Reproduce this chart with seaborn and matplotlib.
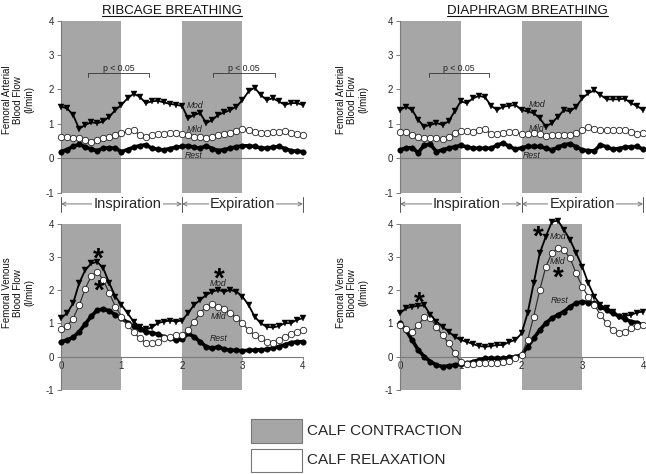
import numpy as np
import pandas as pd
import seaborn as sns
import matplotlib
matplotlib.use("Agg")
import matplotlib.pyplot as plt
from matplotlib.lines import Line2D
from matplotlib.patches import Rectangle

# ---------------- data ----------------
time = [0.0, 0.1, 0.2, 0.3, 0.4, 0.5, 0.6, 0.7, 0.8, 0.9,
        1.0, 1.1, 1.2, 1.3, 1.4, 1.5, 1.6, 1.7, 1.8, 1.9,
        2.0, 2.1, 2.2, 2.3, 2.4, 2.5, 2.6, 2.7, 2.8, 2.9,
        3.0, 3.1, 3.2, 3.3, 3.4, 3.5, 3.6, 3.7, 3.8, 3.9, 4.0]

# Ribcage breathing - femoral arterial
rib_art_mod = [1.50, 1.45, 1.26, 0.85, 0.97, 1.04, 1.02, 1.07, 1.21, 1.40,
               1.55, 1.74, 1.87, 1.79, 1.60, 1.65, 1.67, 1.62, 1.58, 1.55,
               1.52, 1.16, 1.26, 1.31, 1.02, 1.11, 1.26, 1.33, 1.40, 1.50,
               1.69, 1.94, 2.05, 1.84, 1.69, 1.74, 1.65, 1.55, 1.60, 1.60, 1.55]
rib_art_mild = [0.63, 0.62, 0.60, 0.58, 0.52, 0.48, 0.53, 0.58, 0.63, 0.68,
                0.73, 0.78, 0.82, 0.68, 0.63, 0.68, 0.70, 0.70, 0.72, 0.73,
                0.71, 0.67, 0.63, 0.61, 0.60, 0.63, 0.68, 0.70, 0.73, 0.78,
                0.85, 0.82, 0.75, 0.74, 0.73, 0.75, 0.77, 0.79, 0.73, 0.70, 0.66]
rib_art_rest = [0.19, 0.25, 0.34, 0.40, 0.33, 0.26, 0.22, 0.29, 0.30, 0.29,
                0.19, 0.25, 0.32, 0.36, 0.39, 0.29, 0.26, 0.24, 0.28, 0.32,
                0.34, 0.36, 0.32, 0.29, 0.36, 0.28, 0.22, 0.25, 0.29, 0.33,
                0.36, 0.36, 0.34, 0.30, 0.29, 0.32, 0.34, 0.28, 0.22, 0.20, 0.19]

# Diaphragm breathing - femoral arterial
dia_art_mod = [1.40, 1.50, 1.40, 1.11, 0.92, 0.97, 1.02, 0.97, 1.07, 1.36,
               1.65, 1.60, 1.74, 1.81, 1.77, 1.52, 1.40, 1.50, 1.52, 1.55,
               1.40, 1.36, 1.31, 1.16, 0.92, 1.02, 1.21, 1.40, 1.36, 1.50,
               1.74, 1.89, 1.97, 1.84, 1.71, 1.71, 1.71, 1.73, 1.60, 1.52, 1.40]
dia_art_mild = [0.75, 0.77, 0.68, 0.63, 0.60, 0.59, 0.58, 0.55, 0.63, 0.72,
                0.79, 0.78, 0.77, 0.83, 0.85, 0.70, 0.71, 0.73, 0.77, 0.76,
                0.70, 0.71, 0.73, 0.69, 0.65, 0.66, 0.66, 0.67, 0.68, 0.74,
                0.82, 0.90, 0.86, 0.82, 0.81, 0.82, 0.83, 0.82, 0.76, 0.70, 0.73]
dia_art_rest = [0.24, 0.30, 0.30, 0.16, 0.38, 0.40, 0.19, 0.24, 0.29, 0.33,
                0.37, 0.33, 0.29, 0.29, 0.29, 0.29, 0.38, 0.44, 0.34, 0.26,
                0.30, 0.34, 0.34, 0.34, 0.29, 0.24, 0.32, 0.39, 0.42, 0.33,
                0.24, 0.22, 0.21, 0.39, 0.33, 0.26, 0.28, 0.32, 0.33, 0.34, 0.26]

# Ribcage breathing - femoral venous
rib_ven_mod = [1.16, 1.31, 1.61, 2.21, 2.61, 2.81, 2.86, 2.66, 2.21, 1.81,
               1.56, 1.31, 1.06, 0.90, 0.82, 0.88, 1.01, 1.06, 1.09, 1.06,
               1.09, 1.31, 1.56, 1.71, 1.86, 1.96, 2.01, 1.96, 2.01, 1.96,
               1.81, 1.56, 1.21, 1.01, 0.90, 0.88, 0.92, 1.01, 1.01, 1.11, 1.16]
rib_ven_mild = [0.82, 0.92, 1.15, 1.55, 2.05, 2.43, 2.56, 2.31, 1.91, 1.51,
                1.21, 0.95, 0.75, 0.55, 0.42, 0.40, 0.45, 0.55, 0.60, 0.65,
                0.65, 0.80, 1.06, 1.31, 1.51, 1.59, 1.51, 1.43, 1.31, 1.16,
                1.01, 0.80, 0.65, 0.55, 0.45, 0.42, 0.50, 0.60, 0.68, 0.75, 0.80]
rib_ven_rest = [0.45, 0.50, 0.58, 0.75, 0.98, 1.22, 1.40, 1.44, 1.38, 1.26,
                1.16, 1.03, 0.92, 0.82, 0.75, 0.72, 0.68, 0.60, 0.55, 0.50,
                0.52, 0.70, 0.60, 0.45, 0.30, 0.25, 0.30, 0.22, 0.20, 0.19,
                0.18, 0.19, 0.20, 0.21, 0.22, 0.26, 0.30, 0.36, 0.42, 0.45, 0.45]

# Diaphragm breathing - femoral venous
dia_ven_mod = [1.31, 1.46, 1.51, 1.53, 1.55, 1.26, 1.06, 0.90, 0.75, 0.60,
               0.50, 0.45, 0.38, 0.32, 0.30, 0.32, 0.35, 0.35, 0.45, 0.50,
               0.70, 1.31, 2.21, 3.12, 3.62, 4.07, 4.10, 3.82, 3.52, 3.12,
               2.71, 2.21, 1.81, 1.56, 1.46, 1.36, 1.21, 1.23, 1.26, 1.33, 1.36]
dia_ven_mild = [0.95, 0.82, 0.75, 0.95, 1.20, 1.18, 0.90, 0.65, 0.40, 0.10,
                -0.15, -0.22, -0.22, -0.20, -0.18, -0.18, -0.18, -0.15, -0.12, -0.05,
                0.05, 0.50, 1.21, 2.01, 2.71, 3.12, 3.27, 3.22, 2.96, 2.51,
                2.11, 1.81, 1.56, 1.26, 1.01, 0.80, 0.72, 0.75, 0.85, 0.92, 0.95]
dia_ven_rest = [1.01, 0.80, 0.50, 0.20, 0.00, -0.15, -0.25, -0.30, -0.28, -0.25,
                -0.22, -0.20, -0.15, -0.10, -0.05, -0.05, -0.05, -0.05, -0.02, 0.00,
                0.05, 0.30, 0.55, 0.80, 1.01, 1.16, 1.26, 1.36, 1.51, 1.61,
                1.66, 1.63, 1.61, 1.51, 1.41, 1.31, 1.23, 1.13, 1.06, 1.03, 0.95]

titles = ["RIBCAGE BREATHING", "DIAPHRAGM BREATHING"]
ylabels = ["Femoral Arterial\nBlood Flow\n(l/min)", "Femoral Venous\nBlood Flow\n(l/min)"]
phase_labels = ["Inspiration", "Expiration"]
legend_labels = ["CALF CONTRACTION", "CALF RELAXATION"]
y_ticks = [-1, 0, 1, 2, 3, 4]
x_ticks = [0, 1, 2, 3, 4]
contraction_spans = [(0, 1), (2, 3)]

# ---------------- style ----------------
sns.set_style("white")
plt.rcParams["font.family"] = ["Liberation Sans", "DejaVu Sans"]

GRAY = "#a6a6a6"
AXC = "#7a7a7a"

fig = plt.figure(figsize=(6.46, 4.74), dpi=100)
positions = {
    (0, 0): [0.0944, 0.5937, 0.3746, 0.3629],
    (0, 1): [0.6192, 0.5937, 0.3762, 0.3629],
    (1, 0): [0.0944, 0.1776, 0.3746, 0.3498],
    (1, 1): [0.6192, 0.1776, 0.3762, 0.3498],
}
series = {
    (0, 0): (rib_art_mod, rib_art_mild, rib_art_rest),
    (0, 1): (dia_art_mod, dia_art_mild, dia_art_rest),
    (1, 0): (rib_ven_mod, rib_ven_mild, rib_ven_rest),
    (1, 1): (dia_ven_mod, dia_ven_mild, dia_ven_rest),
}
labels_pos = {
    (0, 0): [(2.21, 1.52), (2.21, 0.84), (2.19, 0.07)],
    (0, 1): [(2.25, 1.55), (2.25, 0.87), (2.17, 0.07)],
    (1, 0): [(2.6, 2.20), (2.6, 1.20), (2.6, 0.55)],
    (1, 1): [(2.6, 3.62), (2.59, 2.86), (2.63, 1.68)],
}
stars = {
    (1, 0): [(0.62, 3.12), (0.63, 2.16), (2.62, 2.53)],
    (1, 1): [(0.31, 1.79), (2.27, 3.80), (2.60, 2.56)],
}
brackets = {
    (0, 0): [(0.45, 1.46), (2.52, 3.53)],
    (0, 1): [(0.47, 1.47)],
}

axes = {}
for key, pos in positions.items():
    r, c = key
    ax = fig.add_axes(pos)
    axes[key] = ax
    ax.set_xlim(0, 4)
    ax.set_ylim(-1, 4)
    for a, b in contraction_spans:
        ax.axvspan(a, b, color=GRAY, lw=0, zorder=0)
    mod, mild, rest = series[key]
    df = pd.DataFrame({"t": time, "mod": mod, "mild": mild, "rest": rest})
    sns.lineplot(data=df, x="t", y="rest", ax=ax, color="black", lw=2.6,
                 marker="o", markersize=4.0, markeredgecolor="black",
                 markerfacecolor="black", markeredgewidth=0.3, clip_on=False, zorder=3)
    sns.lineplot(data=df, x="t", y="mild", ax=ax, color="#333333", lw=0.9,
                 marker="o", markersize=4.6, markeredgecolor="#222222",
                 markerfacecolor="white", markeredgewidth=0.6, clip_on=False, zorder=4)
    sns.lineplot(data=df, x="t", y="mod", ax=ax, color="black", lw=1.3,
                 marker="v", markersize=4.2, markeredgecolor="black",
                 markerfacecolor="black", markeredgewidth=0.3, clip_on=False, zorder=5)
    for (lx, ly), txt in zip(labels_pos[key], ["Mod", "Mild", "Rest"]):
        ax.text(lx, ly, txt, fontsize=6.2, style="italic", ha="center", va="center",
                color="#222222", zorder=6)
    for sx, sy in stars.get(key, []):
        ax.text(sx, sy - 0.2, "*", fontsize=20, fontweight="bold", ha="center",
                va="center", color="black", zorder=7)
    for bx0, bx1 in brackets.get(key, []):
        ax.plot([bx0, bx0, bx1, bx1], [2.35, 2.47, 2.47, 2.35], color="#333333",
                lw=0.6, zorder=6)
        ax.text((bx0 + bx1) / 2, 2.62, "p < 0.05", fontsize=6.3, ha="center",
                va="center", color="#222222", zorder=6)

    ax.set_xlabel("")
    ax.set_ylabel(ylabels[r], fontsize=7, linespacing=1.15, color="#111111")
    ax.yaxis.set_label_coords(-0.11 if c == 0 else -0.13, 0.54 if r == 0 else 0.585)
    for s in ["top", "right"]:
        ax.spines[s].set_visible(False)
    ax.spines["left"].set_color(AXC)
    ax.spines["left"].set_linewidth(0.8)
    ax.spines["bottom"].set_position(("data", 0))
    ax.spines["bottom"].set_color(AXC)
    ax.spines["bottom"].set_linewidth(0.8)
    ax.set_yticks(y_ticks)
    ax.set_yticklabels([str(v) for v in y_ticks])
    ax.tick_params(axis="y", direction="out", length=3, width=0.7, color=AXC,
                   labelsize=7, pad=2, left=True)
    ax.set_xticks(x_ticks)
    if r == 1:
        ax.set_xticklabels([str(v) for v in x_ticks])
        ax.tick_params(axis="x", direction="out", length=2, width=0.6, color=AXC,
                       labelsize=7, pad=1, bottom=True)
    else:
        ax.set_xticklabels([])
        ax.tick_params(axis="x", length=0)
    ax.patch.set_alpha(0)

# Inspiration / Expiration arrows under top panels
for c in (0, 1):
    ax = axes[(0, c)]
    yrow = -1.33
    for (a, b), txt, tx in zip([(0, 2), (2, 4)], phase_labels, [1.1, 3.0]):
        ax.annotate("", xy=(a, yrow), xytext=(b, yrow),
                    arrowprops=dict(arrowstyle="<->", color="#777777", lw=0.7,
                                    shrinkA=0, shrinkB=0, mutation_scale=7),
                    annotation_clip=False)
        ax.text(tx, yrow, txt, fontsize=10.5, ha="center", va="center",
                bbox=dict(fc="white", ec="none", pad=0.8), zorder=8, clip_on=False)
    for vx in (0, 2, 4):
        ax.plot([vx, vx], [-1.12, -1.55], color="#555555", lw=0.7, clip_on=False)

# Titles (underlined)
title_x = [1.83, 2.1]
title_texts = []
for c in (0, 1):
    ax = axes[(0, c)]
    t = ax.text(title_x[c], 4.28, titles[c], fontsize=9.5, ha="center", va="center",
                color="#111111", clip_on=False)
    title_texts.append(t)

# Legend
fig.patches.append(Rectangle((0.388, 0.0648), 0.079, 0.0506, transform=fig.transFigure,
                             facecolor=GRAY, edgecolor="#777777", lw=0.8))
fig.patches.append(Rectangle((0.388, 0.0042), 0.079, 0.0485, transform=fig.transFigure,
                             facecolor="white", edgecolor="#777777", lw=0.8))
fig.text(0.475, 0.0907, legend_labels[0], fontsize=11, ha="left", va="center")
fig.text(0.475, 0.0285, legend_labels[1], fontsize=11, ha="left", va="center")

fig.canvas.draw()
renderer = fig.canvas.get_renderer()
inv = fig.transFigure.inverted()
for t in title_texts:
    bb = t.get_window_extent(renderer)
    (x0, y0), (x1, y1) = inv.transform([(bb.x0, bb.y0), (bb.x1, bb.y1)])
    fig.lines.append(Line2D([x0, x1], [y0 + 0.002, y0 + 0.002], transform=fig.transFigure,
                            color="#111111", lw=0.8))

fig.savefig("out.png", dpi=100)
